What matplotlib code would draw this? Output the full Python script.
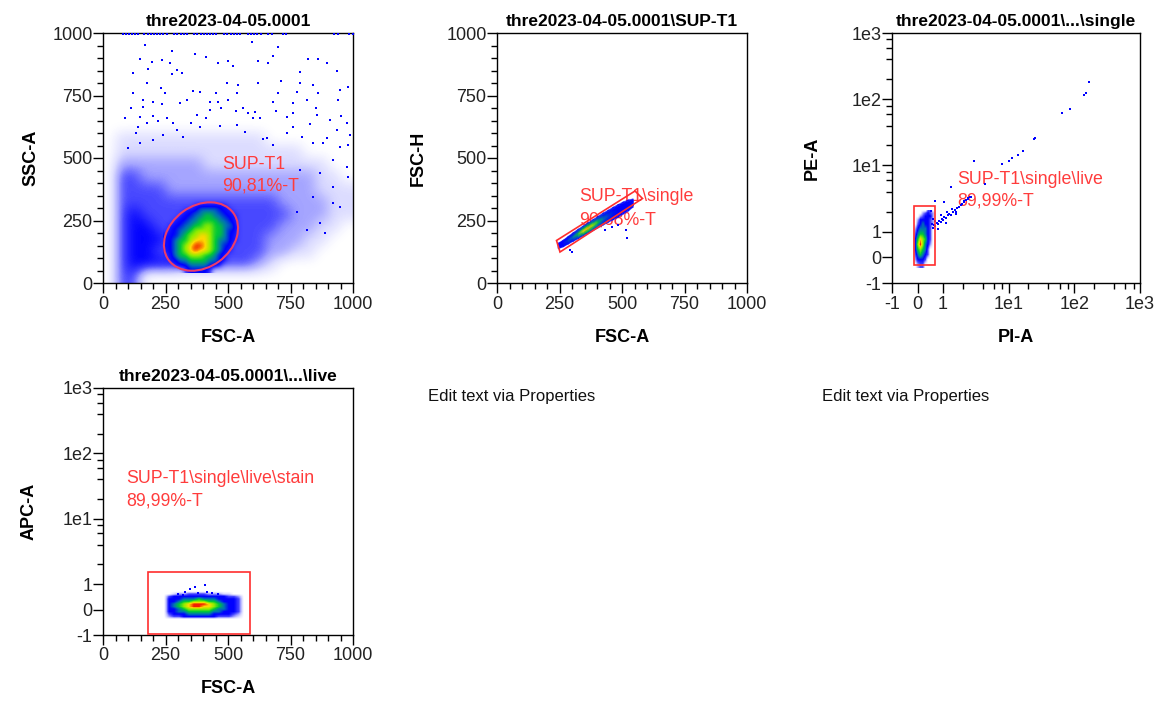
import numpy as np
import matplotlib
matplotlib.use("Agg")
import matplotlib.pyplot as plt
from matplotlib.colors import LinearSegmentedColormap, Normalize
from matplotlib.patches import Ellipse, Polygon, Rectangle
from matplotlib.ticker import FixedLocator, MultipleLocator, NullFormatter

# ------------------------------------------------------------------ data
titles = ["thre2023-04-05.0001", "thre2023-04-05.0001\\SUP-T1",
          "thre2023-04-05.0001\\...\\single", "thre2023-04-05.0001\\...\\live"]
x_labels = ["FSC-A", "FSC-A", "PI-A", "FSC-A"]
y_labels = ["SSC-A", "FSC-H", "PE-A", "APC-A"]
gate_names = ["SUP-T1", "SUP-T1\\single", "SUP-T1\\single\\live",
              "SUP-T1\\single\\live\\stain"]
gate_percents = ["90,81%-T", "90,68%-T", "89,99%-T", "89,99%-T"]
empty_panel_text = "Edit text via Properties"

linear_ticks = [0, 250, 500, 750, 1000]
log_ticks = [-1, 0, 1, 10, 100, 1000]
log_tick_labels = ["-1", "0", "1", "1e1", "1e2", "1e3"]
log_minor_ticks = [2, 4, 6, 8, 20, 40, 60, 80, 200, 400, 600, 800]

# Panel 1 (FSC-A vs SSC-A): background event density, 50-unit cells,
# rows from SSC 950-1000 (top) down to 0-50; columns FSC 0-50 ... 950-1000
ssc_background_density = [
    "00000000000000000000",
    "00000000000000000000",
    "00000000000000000000",
    "00000000000000000000",
    "00000000000000000000",
    "00000000000000000000",
    "00000000000000000000",
    "00000000000000000000",
    "01111111111110000000",
    "01111111111111110000",
    "02222222111111111100",
    "03322222222222222110",
    "03333222222222222111",
    "03333333333333222211",
    "03433333333333322211",
    "03443333333333222110",
    "03444333333332221100",
    "03443333333332211000",
    "03444433333321000000",
    "03300000000000000000",
]
# Panel 1 main population, 20-unit cells, FSC 240-560, SSC 340 (top) .. 40
ssc_population_density = [
    "0000000000000000",
    "0000003444443000",
    "0000344555544300",
    "0003445566554430",
    "0034455666655430",
    "0344556677665540",
    "0445567777665440",
    "3445677887665430",
    "3456678887655430",
    "3456789987654400",
    "3456789887654300",
    "0456677766543000",
    "0345566665543000",
    "0034455554430000",
    "0000344443000000",
]
# Panel 1 sparse events (FSC-A, SSC-A)
sparse_fsc_a = [168, 595, 701, 275, 148, 195, 235, 268, 295, 315, 368, 461, 501, 521,
                621, 681, 661, 821, 861, 895, 935, 788, 121, 181, 275, 175, 495, 541,
                621, 788, 841, 981, 948, 361, 388, 535, 701, 775, 161, 201, 235, 308,
                335, 428, 461, 501, 608, 681, 761, 815, 941, 88, 148, 201, 255, 375,
                428, 581, 628, 735, 855, 908, 975, 141, 175, 295, 388, 468, 535, 568,
                761, 828, 935, 988, 895, 948, 981, 795, 735, 655, 321, 241, 201, 148,
                101, 681, 841, 921, 975, 868, 981, 921, 948, 868, 815, 888, 775, 841,
                921, 788, 412, 248, 712, 560, 880, 130, 350, 640, 110, 160, 220, 280,
                410, 470, 530, 600, 690, 760, 850, 950, 120, 230, 450, 860]
sparse_ssc_a = [951, 965, 943, 929, 895, 883, 892, 879, 852, 841, 916, 881, 889, 868,
                889, 908, 881, 895, 895, 881, 849, 843, 839, 855, 836, 799, 799, 792,
                801, 799, 792, 785, 772, 769, 765, 761, 761, 765, 732, 725, 716, 719,
                732, 725, 725, 732, 685, 725, 719, 732, 732, 659, 665, 668, 659, 672,
                692, 679, 659, 665, 672, 652, 639, 625, 639, 612, 625, 628, 632, 605,
                625, 635, 612, 592, 579, 545, 552, 585, 599, 579, 585, 592, 572, 559,
                539, 552, 559, 492, 465, 439, 425, 319, 305, 239, 212, 201, 285, 345,
                385, 452, 905, 760, 810, 700, 560, 600, 640, 575, 700, 705, 650, 640,
                660, 700, 690, 660, 690, 680, 700, 670, 760, 780, 760, 760]
# Panel 1 events saturated at the top of the SSC range
top_fsc_a = [81, 92, 104, 115, 128, 140, 165, 178, 190, 203, 216, 228, 241, 254,
             284, 297, 310, 323, 336, 364, 377, 390, 402, 415, 428, 441, 453,
             484, 497, 510, 522, 535, 548, 578, 591, 604, 617, 630, 660,
             675, 718, 730, 925, 940, 985, 998]
top_ssc_a = [996] * len(top_fsc_a)

# Panel 1 gate ellipse (centre FSC, centre SSC, width, height, angle)
ellipse_gate = (392, 186, 320, 246, 36)

# Panel 2 (FSC-A vs FSC-H): singlet streak, sampled along FSC-A
streak_fsc_a = [245, 265, 285, 305, 325, 345, 365, 385, 405, 425, 445, 465, 485, 505, 525, 545]
streak_fsc_h = [148, 158, 171, 184, 196, 208, 220, 232, 244, 256, 267, 278, 289, 300, 310, 320]
streak_width = [22, 26, 30, 34, 38, 40, 42, 44, 46, 48, 48, 50, 50, 48, 44, 32]
streak_level = [3.8, 4, 4.5, 5, 6, 7.8, 8.2, 7, 6, 5, 4.5, 4.2, 4, 4, 4, 3.5]
streak_out_fsc_a = [292, 299, 432, 459, 485, 515, 519]
streak_out_fsc_h = [132, 125, 212, 225, 232, 212, 179]
single_gate_fsc_a = [238, 552, 582, 252]
single_gate_fsc_h = [170, 368, 338, 124]

# Panel 3 (PI-A vs PE-A): live blob, cells of 0.1 PI x 0.2 PE,
# PI -0.25..0.75, PE 2.2 (top) .. -0.4
live_density = [
    "0000003300",
    "0000234320",
    "0002344420",
    "0024444320",
    "0034544320",
    "0245554300",
    "0356654300",
    "0468764300",
    "0479754200",
    "0467653000",
    "0356543000",
    "0244430000",
    "0023300000",
]
live_tail_pi = [0.6, 0.65, 0.7, 0.75, 0.8, 0.85, 0.9, 0.95, 1.0, 1.05, 1.1, 1.2, 1.25, 1.3,
                1.4, 1.5, 1.55, 1.65, 1.75, 1.85, 1.95, 2.1, 2.25, 2.4, 2.6, 0.7, 0.9, 1.15,
                1.35, 0.46, 0.53, 0.69, 1.03, 1.34, 2.05, 2.4, 2.67, 3.0, 4.4, 7.8, 10, 11.3,
                13.7, 16.5, 24, 25.5, 64, 85, 140, 150, 166, 0.8, 1.1, 1.6, 0.55, 0.62]
live_tail_pe = [1.15, 1.25, 1.2, 1.35, 1.3, 1.45, 1.4, 1.55, 1.5, 1.65, 1.6, 1.75, 1.85, 1.8,
                1.95, 2.1, 2.0, 2.25, 2.35, 2.5, 2.6, 2.8, 2.95, 3.1, 3.3, 1.45, 1.75, 1.95,
                2.2, 1.7, 2.03, 2.88, 2.8, 4.76, 2.9, 3.2, 3.3, 11.6, 5.2, 10.4, 11.6, 13.1,
                14.1, 16.4, 24.8, 25.5, 60.8, 72, 116, 125, 183, 1.1, 1.35, 1.85, 1.3, 1.55]
live_gate = (-0.14, -0.30, 0.69, 2.42)   # PI min, PE min, PI max, PE max

# Panel 4 (FSC-A vs APC-A): stained blob, cells of 20 FSC x 0.1 APC,
# FSC 230..570, APC 0.75 (top) .. -0.45
stain_density = [
    "00000000000000000",
    "00122333322211000",
    "03444444444443320",
    "04445556555444430",
    "04456677766544430",
    "04567899987654430",
    "04567899887654430",
    "04456777776554430",
    "04455666665544430",
    "03444555554444320",
    "02334444444333210",
    "00000000000000000",
]
stain_out_fsc_a = [328, 348, 368, 381, 408, 415, 435, 321, 300, 460]
stain_out_apc_a = [0.70, 0.79, 0.89, 0.66, 0.96, 0.70, 0.64, 0.57, 0.62, 0.60]
stain_gate = (181, -0.96, 588, 1.54)      # FSC min, APC min, FSC max, APC max

# ------------------------------------------------------------------ style
plt.rcParams["font.family"] = ["Liberation Sans", "DejaVu Sans"]
W, H = 1161, 702
fig = plt.figure(figsize=(W / 100, H / 100), dpi=100)
fig.patch.set_facecolor("white")

level_colors = [(0, 0, 1, 0.0), (0, 0, 1, 0.14), (0, 0, 1, 0.36), (0, 0, 1, 0.72),
                (0, 0, 1, 1.0), (0.0, 0.45, 0.7, 1.0), (0.0, 0.78, 0.22, 1.0),
                (0.55, 0.93, 0.0, 1.0), (1.0, 0.85, 0.0, 1.0), (0.95, 0.12, 0.0, 1.0)]
cmap = LinearSegmentedColormap.from_list(
    "flow", [(i / 9, c) for i, c in enumerate(level_colors)])
norm = Normalize(0, 9)
GATE_RED = "#ff2e2e"
TEXT_RED = "#ff3c3c"
ELLIPSE_PINK = "#ec3c6a"

Z_HAZE, Z_TEXT, Z_POP, Z_DOTS, Z_GATE = 1.5, 2.0, 2.5, 3.0, 4.0


def grid(rows):
    return np.array([[int(c) for c in r] for r in rows], dtype=float)


def make_axes(l, t, r, b):
    return fig.add_axes([l / W, 1 - b / H, (r - l) / W, (b - t) / H])


def style(ax, idx, xlog=False, ylog=False):
    for s in ax.spines.values():
        s.set_linewidth(1.0)
        s.set_color("black")
    if xlog:
        ax.set_xscale("symlog", linthresh=1, linscale=0.35)
        ax.set_xlim(-1, 1000)
        ax.xaxis.set_major_locator(FixedLocator(log_ticks))
        ax.set_xticklabels(log_tick_labels)
        ax.xaxis.set_minor_locator(FixedLocator(log_minor_ticks))
        ax.xaxis.set_minor_formatter(NullFormatter())
    else:
        ax.set_xlim(0, 1000)
        ax.xaxis.set_major_locator(FixedLocator(linear_ticks))
        ax.xaxis.set_minor_locator(MultipleLocator(50))
    if ylog:
        ax.set_yscale("symlog", linthresh=1, linscale=0.35)
        ax.set_ylim(-1, 1000)
        ax.yaxis.set_major_locator(FixedLocator(log_ticks))
        ax.set_yticklabels(log_tick_labels)
        ax.yaxis.set_minor_locator(FixedLocator(log_minor_ticks))
        ax.yaxis.set_minor_formatter(NullFormatter())
    else:
        ax.set_ylim(0, 1000)
        ax.yaxis.set_major_locator(FixedLocator(linear_ticks))
        ax.yaxis.set_minor_locator(MultipleLocator(50))
    ax.tick_params(which="major", length=7, width=1, direction="out",
                   labelsize=13, labelcolor="#222222")
    ax.tick_params(which="minor", length=4.5, width=1, direction="out")
    ax.tick_params(axis="x", which="major", pad=2)
    ax.tick_params(axis="y", which="major", pad=0.5)
    ax.set_title(titles[idx], fontsize=12.5, fontweight="bold", pad=5)
    ax.set_xlabel(x_labels[idx], fontsize=13, fontweight="bold")
    ax.set_ylabel(y_labels[idx], fontsize=13, fontweight="bold")


def gate_text(ax, idx, x, y1, y2):
    ax.text(x, y1, gate_names[idx], transform=ax.transAxes, color=TEXT_RED,
            fontsize=12.8, va="baseline", ha="left", zorder=Z_TEXT)
    ax.text(x, y2, gate_percents[idx], transform=ax.transAxes, color=TEXT_RED,
            fontsize=12.8, va="baseline", ha="left", zorder=Z_TEXT)


def density_image(ax, rows, extent, z, interp="bicubic"):
    ax.imshow(grid(rows), extent=extent, origin="upper", cmap=cmap, norm=norm,
              interpolation=interp, interpolation_stage="data", aspect="auto",
              zorder=z)


dot_kw = dict(marker="s", s=3.6, c="#0000ff", linewidths=0, zorder=Z_DOTS)

# ---------------- panel 1
ax1 = make_axes(103, 33, 353, 283)
gate_text(ax1, 0, 0.475, 0.455, 0.372)
density_image(ax1, ssc_background_density, (0, 1000, 0, 1000), Z_HAZE)
density_image(ax1, ssc_population_density, (240, 560, 40, 340), Z_POP)
ax1.scatter(sparse_fsc_a, sparse_ssc_a, **dot_kw)
ax1.scatter(top_fsc_a, top_ssc_a, **dot_kw)
cx, cy, ew, eh, ang = ellipse_gate
ax1.add_patch(Ellipse((cx, cy), ew, eh, angle=ang, fill=False,
                      edgecolor=ELLIPSE_PINK, linewidth=1.5, zorder=Z_GATE))
style(ax1, 0)
ax1.xaxis.set_label_coords(0.5, -0.183)
ax1.yaxis.set_label_coords(-0.256, 0.5)

# ---------------- panel 2
ax2 = make_axes(497, 33, 747, 283)
gate_text(ax2, 1, 0.329, 0.329, 0.236)
sx = np.array(streak_fsc_a, float)
sy = np.array(streak_fsc_h, float)
sw = np.array(streak_width, float)
sl = np.array(streak_level, float)
across = np.array([-1.0, -0.55, 0.0, 0.55, 1.0])
X = np.repeat(sx[:, None], len(across), axis=1)
Y = sy[:, None] + across[None, :] * sw[:, None] / 2
mid = np.where(sl > 4, 4 + (sl - 4) * 0.45, sl)
edge = np.full_like(sl, 2.8)
C = np.stack([edge, mid, sl, mid, edge], axis=1)
ax2.pcolormesh(X, Y, C, shading="gouraud", cmap=cmap, norm=norm, zorder=Z_POP)
ax2.scatter(streak_out_fsc_a, streak_out_fsc_h, **dot_kw)
ax2.add_patch(Polygon(np.column_stack([single_gate_fsc_a, single_gate_fsc_h]),
                      closed=True, fill=False, edgecolor=GATE_RED, linewidth=1.2,
                      zorder=Z_GATE))
style(ax2, 1)
ax2.xaxis.set_label_coords(0.5, -0.183)
ax2.yaxis.set_label_coords(-0.28, 0.5)

# ---------------- panel 3
ax3 = make_axes(892, 33, 1140, 283)
style(ax3, 2, xlog=True, ylog=True)
gate_text(ax3, 2, 0.263, 0.395, 0.312)
density_image(ax3, live_density, (-0.25, 0.75, -0.4, 2.2), Z_POP, interp="bilinear")
ax3.scatter(live_tail_pi, live_tail_pe, **dot_kw)
gx0, gy0, gx1, gy1 = live_gate
ax3.add_patch(Rectangle((gx0, gy0), gx1 - gx0, gy1 - gy0, fill=False,
                        edgecolor=GATE_RED, linewidth=1.2, zorder=Z_GATE))
ax3.set_xlim(-1, 1000)
ax3.set_ylim(-1, 1000)
ax3.xaxis.set_label_coords(0.5, -0.183)
ax3.yaxis.set_label_coords(-0.287, 0.5)

# ---------------- panel 4
ax4 = make_axes(103, 388, 353, 635)
style(ax4, 3, ylog=True)
gate_text(ax4, 3, 0.092, 0.614, 0.526)
density_image(ax4, stain_density, (230, 570, -0.45, 0.75), Z_POP, interp="bilinear")
ax4.scatter(stain_out_fsc_a, stain_out_apc_a, **dot_kw)
sx0, sy0, sx1, sy1 = stain_gate
ax4.add_patch(Rectangle((sx0, sy0), sx1 - sx0, sy1 - sy0, fill=False,
                        edgecolor=GATE_RED, linewidth=1.2, zorder=Z_GATE))
ax4.set_xlim(0, 1000)
ax4.set_ylim(-1, 1000)
ax4.xaxis.set_label_coords(0.5, -0.183)
ax4.yaxis.set_label_coords(-0.263, 0.5)

# ---------------- empty layout cells
fig.text(428 / W, 1 - 401 / H, empty_panel_text, fontsize=12, color="#111111",
         va="baseline", ha="left")
fig.text(822 / W, 1 - 401 / H, empty_panel_text, fontsize=12, color="#111111",
         va="baseline", ha="left")

fig.savefig("out.png", dpi=100, facecolor="white")
